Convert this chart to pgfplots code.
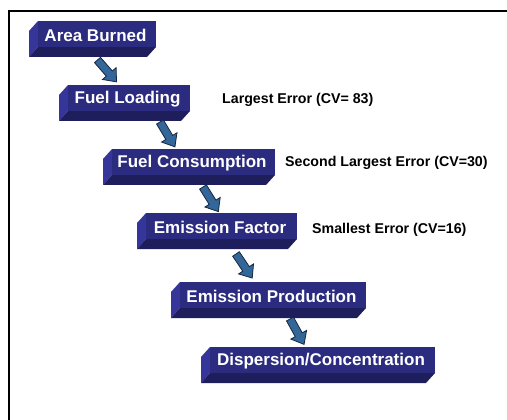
\documentclass[border=0pt]{standalone}
\usepackage{fontspec}
\setmainfont{Liberation Sans}
\usepackage{pgfplots}
\pgfplotsset{compat=1.18}
\definecolor{face}{HTML}{2B2B80}
\definecolor{sideL}{HTML}{35359A}
\definecolor{sideB}{HTML}{1E1E5C}
\definecolor{arrowfill}{HTML}{336699}
\definecolor{arrowline}{HTML}{17273F}
\newcommand{\flowbox}[5]{%
  \fill[sideL] (axis cs:{#1+9},#3) -- (axis cs:{#1+9},{#3+26}) -- (axis cs:#1,{#3+36}) -- (axis cs:#1,{#3+10}) -- cycle;
  \fill[sideB] (axis cs:{#1+9},{#3+26}) -- (axis cs:#2,{#3+26}) -- (axis cs:{#2-9},{#3+36}) -- (axis cs:#1,{#3+36}) -- cycle;
  \fill[face] (axis cs:{#1+9},#3) rectangle (axis cs:#2,{#3+26});
  \node[text=white,font=\bfseries\fontsize{17}{20}\selectfont,inner sep=0pt] at (axis cs:#5,{#3+14}) {#4};
}
\newcommand{\flowarrow}[2]{%
  \begin{scope}[shift={(#1)},rotate=#2]
    \filldraw[fill=arrowfill,draw=arrowline,line width=0.8pt,line join=miter]
      (0,4pt) -- (18pt,4pt) -- (18pt,9pt) -- (29pt,0) -- (18pt,-9pt) -- (18pt,-4pt) -- (0,-4pt) -- cycle;
  \end{scope}
}
\begin{document}
\begin{tikzpicture}
\fill[white] (-2pt,-2pt) rectangle (509pt,422pt);
\begin{axis}[
  width=507pt, height=420pt, scale only axis,
  xmin=0, xmax=507, ymin=0, ymax=420, y dir=reverse,
  hide axis, clip=false,
]
\draw[line width=2pt] (axis cs:9,420) -- (axis cs:9,11) -- (axis cs:507,11);
\flowbox{29}{156}{21}{Area Burned}{95.5}
\flowbox{59}{190}{85}{Fuel Loading}{127.5}
\flowbox{103}{275}{149}{Fuel Consumption}{192}
\flowbox{137}{297}{213}{Emission Factor}{220}
\flowbox{171}{366}{282}{Emission Production}{271.5}
\flowbox{201}{435}{347}{Dispersion/Concentration}{321}
\node[anchor=west,font=\bfseries\fontsize{14.2}{17}\selectfont,inner sep=0pt] at (axis cs:222,100) {Largest Error (CV= 83)};
\node[anchor=west,font=\bfseries\fontsize{14.2}{17}\selectfont,inner sep=0pt] at (axis cs:285,163) {Second Largest Error (CV=30)};
\node[anchor=west,font=\bfseries\fontsize{14.2}{17}\selectfont,inner sep=0pt] at (axis cs:312,230) {Smallest Error (CV=16)};
\coordinate (a1) at (axis cs:97.5,60);
\coordinate (a2) at (axis cs:160,122);
\coordinate (a3) at (axis cs:203,187);
\coordinate (a4) at (axis cs:236,254);
\coordinate (a5) at (axis cs:290,319);
\end{axis}
\flowarrow{a1}{-49}
\flowarrow{a2}{-59}
\flowarrow{a3}{-58}
\flowarrow{a4}{-56}
\flowarrow{a5}{-61}
\pgfresetboundingbox
\path (0,0) rectangle (507pt,420pt);
\end{tikzpicture}
\end{document}
